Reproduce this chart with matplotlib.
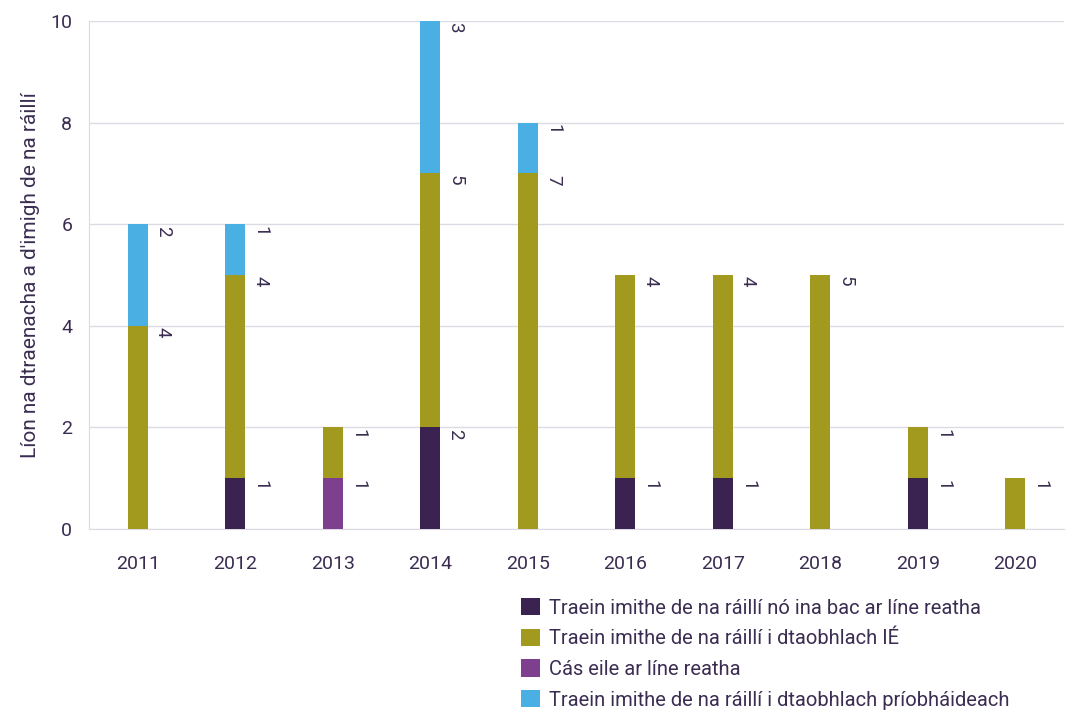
import matplotlib
matplotlib.use("Agg")
import matplotlib.pyplot as plt
import numpy as np

years = ["2011", "2012", "2013", "2014", "2015", "2016", "2017", "2018", "2019", "2020"]
running_line = [0, 1, 0, 2, 0, 1, 1, 0, 1, 0]
ie_sidings = [4, 4, 1, 5, 7, 4, 4, 5, 1, 1]
other_running = [0, 0, 1, 0, 0, 0, 0, 0, 0, 0]
private_sidings = [2, 1, 0, 3, 1, 0, 0, 0, 0, 0]

labels = ["Traein imithe de na ráillí nó ina bac ar líne reatha",
          "Traein imithe de na ráillí i dtaobhlach IÉ",
          "Cás eile ar líne reatha",
          "Traein imithe de na ráillí i dtaobhlach príobháideach"]
colors = ["#3a2350", "#a19a1e", "#7f3f8f", "#4ab0e4"]
text_color = "#3b2d52"

plt.rcParams['font.family'] = ['Roboto', 'DejaVu Sans']

fig = plt.figure(figsize=(10.75, 7.13), dpi=100)
ax = fig.add_axes([89/1075, 1 - 529/713, (1064-89)/1075, (529-21)/713])

x = np.arange(len(years))
w = 0.205
series = [(running_line, 0), (other_running, 2), (ie_sidings, 1), (private_sidings, 3)]
bottom = np.zeros(len(years))
handles = [None]*4
for vals, ci in series:
    vals = np.array(vals, dtype=float)
    b = ax.bar(x, vals, w, bottom=bottom, color=colors[ci], label=labels[ci], zorder=3)
    handles[ci] = b
    for xi, v, bt in zip(x, vals, bottom):
        if v > 0:
            ax.annotate(f"{int(v)}", xy=(xi + w/2, bt + v), xytext=(4.5, -1),
                        textcoords="offset points", rotation=-90,
                        ha="left", va="top", fontsize=13.5, color=text_color)
    bottom = bottom + vals

ax.set_xlim(-0.5, len(years) - 0.5)
ax.set_ylim(0, 10)
ax.set_yticks([0, 2, 4, 6, 8, 10])
ax.set_xticks(x)
ax.set_xticklabels(years)
ax.tick_params(axis="both", length=0, labelsize=14, colors=text_color)
ax.tick_params(axis="x", pad=19)
ax.tick_params(axis="y", pad=12)
ax.grid(axis="y", color="#dcdae2", linewidth=1, zorder=0)
for s in ["top", "right"]:
    ax.spines[s].set_visible(False)
ax.spines["left"].set_color("#dcdae2")
ax.spines["bottom"].set_color("#dcdae2")
ax.set_ylabel("Líon na dtraenacha a d'imigh de na ráillí", fontsize=15, color=text_color, labelpad=7.5)

fig.legend(handles=handles, labels=labels, loc="upper left",
           bbox_to_anchor=(513/1075, 1 - 590/713), frameon=False,
           fontsize=14.5, labelcolor=text_color, handlelength=0.95, handleheight=0.95,
           handletextpad=0.45, labelspacing=0.55, borderaxespad=0)

fig.savefig("out.png", dpi=100)
